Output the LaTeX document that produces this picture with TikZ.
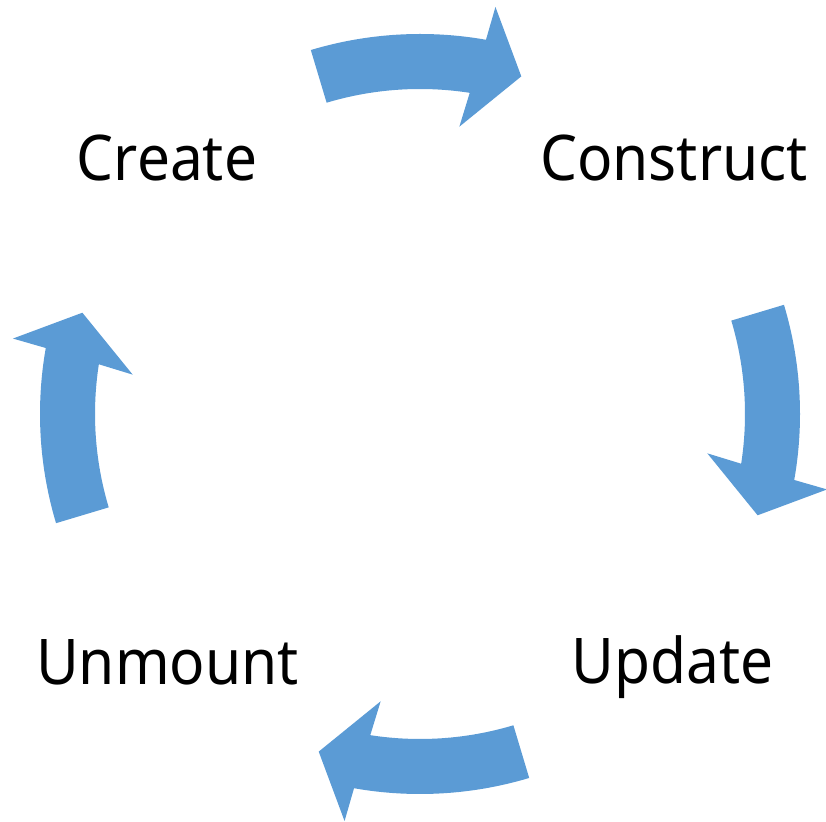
\documentclass[tikz,border=0pt]{standalone}
\usepackage{fontspec}
\setmainfont{Noto Sans}[FakeStretch=0.93]
\definecolor{arrowblue}{HTML}{5B9BD5}
\tikzset{
  label text/.style={font=\fontsize{63}{70}\selectfont, text=black, inner sep=0pt, anchor=base},
  block arrow/.style={fill=arrowblue, draw=none}
}
\begin{document}
\begin{tikzpicture}[x=1pt,y=1pt]
\useasboundingbox (0,0) rectangle (826,821);
% curved block arrows around centre
\coordinate (ctr) at (420,407);
\begin{scope}[shift={(ctr)}]
\foreach \t in {90,0,-90,180}{
  \path[block arrow]
    (\t+16.7:325pt) -- (\t+16.7:380pt)
    arc[start angle=\t+16.7, end angle=\t-10, radius=380pt]
    -- (\t-10.5:414pt) -- (\t-16.7:352.5pt) -- (\t-7.8:290pt) -- (\t-8.8:325pt)
    arc[start angle=\t-8.8, end angle=\t+16.7, radius=325pt]
    -- cycle;
}
\end{scope}
% labels
\node[label text] (create) at (167,640) {Create};
\node[label text] (construct) at (674,640) {Construct};
\node[label text] (update) at (672.5,137) {Update};
\node[label text] (unmount) at (167.5,136) {Unmount};
\end{tikzpicture}
\end{document}
